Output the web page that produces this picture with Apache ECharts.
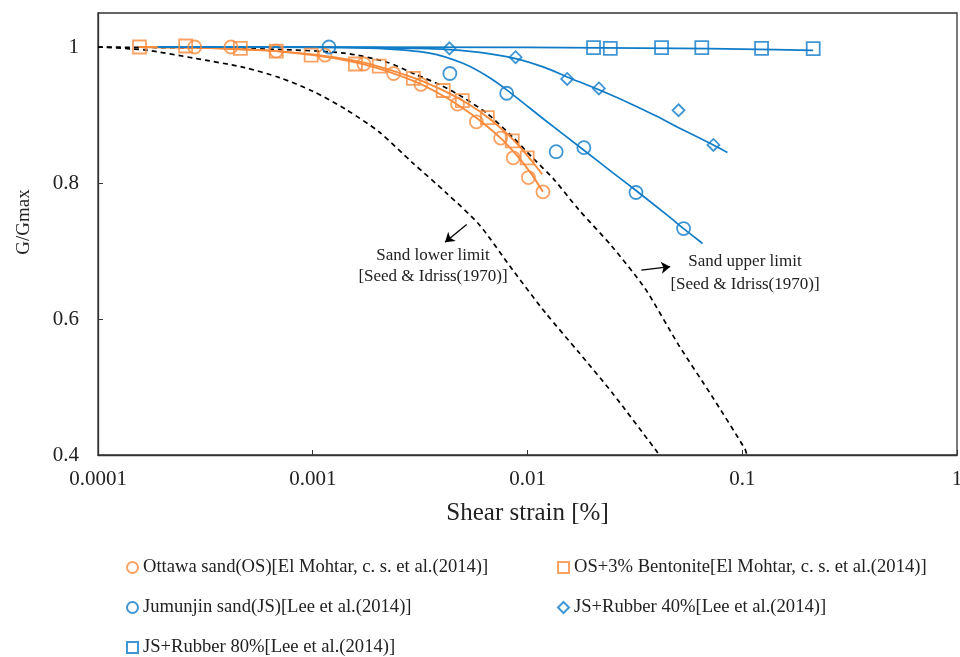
<!DOCTYPE html>
<html>
<head>
<meta charset="utf-8">
<style>
  html, body { margin: 0; padding: 0; background: #fff; }
  #chart { width: 960px; height: 657px; }
</style>
<script src="https://cdn.jsdelivr.net/npm/echarts@6.0.0/dist/echarts.min.js"></script>
</head>
<body>
<div id="chart"></div>
<script>
// tick labels
const xTickLabels = ["0.0001", "0.001", "0.01", "0.1", "1"];

// measured points
const osX = [0.000282, 0.000416, 0.000676, 0.00114, 0.00173, 0.00238, 0.00319, 0.00472, 0.00578, 0.0075, 0.00858, 0.0101, 0.0118];
const osY = [1.0, 1.0, 0.994, 0.988, 0.975, 0.961, 0.945, 0.916, 0.890, 0.866, 0.837, 0.808, 0.787];

const bentX = [0.000156, 0.000256, 0.00046, 0.000676, 0.000983, 0.00158, 0.00204, 0.00294, 0.00405, 0.00497, 0.0065, 0.00849, 0.00997];
const bentY = [1.0, 1.0015, 0.998, 0.994, 0.988, 0.975, 0.972, 0.954, 0.936, 0.921, 0.896, 0.862, 0.837];

const jsX = [0.00119, 0.00435, 0.0080, 0.0136, 0.0183, 0.0320, 0.0533];
const jsY = [1.0, 0.961, 0.932, 0.846, 0.852, 0.786, 0.733];

const r40X = [0.00433, 0.0088, 0.0153, 0.0215, 0.0505, 0.0734];
const r40Y = [0.998, 0.985, 0.953, 0.939, 0.907, 0.856];

const r80X = [0.0203, 0.0243, 0.0421, 0.0648, 0.123, 0.214];
const r80Y = [0.999, 0.998, 0.999, 0.999, 0.998, 0.9975];

// fitted curves
const osFitX = [0.000155, 0.0003, 0.0006, 0.001, 0.0015, 0.002, 0.003, 0.004, 0.005, 0.006, 0.0075, 0.009, 0.0105, 0.0118];
const osFitY = [1.0, 0.999, 0.995, 0.988, 0.979, 0.969, 0.949, 0.929, 0.910, 0.892, 0.866, 0.839, 0.812, 0.787];

const bentFitX = [0.000155, 0.0003, 0.0006, 0.001, 0.0015, 0.002, 0.003, 0.004, 0.005, 0.006, 0.0075, 0.009, 0.0105, 0.0117];
const bentFitY = [1.0, 0.999, 0.995, 0.989, 0.981, 0.972, 0.954, 0.937, 0.921, 0.905, 0.881, 0.857, 0.832, 0.813];

const jsFitX = [0.00019, 0.001, 0.002, 0.0035, 0.005, 0.0065, 0.008, 0.012, 0.018, 0.025, 0.032, 0.045, 0.0533, 0.0653];
const jsFitY = [1.0, 0.9995, 0.998, 0.991, 0.976, 0.957, 0.937, 0.893, 0.850, 0.815, 0.789, 0.752, 0.733, 0.711];

const r40FitX = [0.00019, 0.001, 0.002, 0.004, 0.006, 0.0088, 0.012, 0.0153, 0.0215, 0.03, 0.04, 0.05, 0.0734, 0.0853];
const r40FitY = [1.0, 1.0, 0.999, 0.997, 0.992, 0.983, 0.970, 0.956, 0.937, 0.917, 0.898, 0.882, 0.856, 0.845];

const r80FitX = [0.00019, 0.01, 0.05, 0.1, 0.214];
const r80FitY = [1.0, 0.9995, 0.998, 0.997, 0.995];

// Seed & Idriss (1970) bounds
const upX = [0.0001, 0.0006, 0.0014, 0.0022, 0.003, 0.004, 0.005, 0.0065, 0.0085, 0.0105, 0.0133, 0.0173, 0.0247, 0.0354, 0.0505, 0.0721, 0.1031, 0.105];
const upY = [1.0, 0.997, 0.991, 0.978, 0.96, 0.943, 0.926, 0.902, 0.868, 0.838, 0.805, 0.761, 0.707, 0.644, 0.562, 0.487, 0.4085, 0.4];

const loX = [0.0001, 0.000165, 0.000282, 0.000482, 0.0007, 0.001, 0.00143, 0.00204, 0.00291, 0.00417, 0.00595, 0.00849, 0.01213, 0.01733, 0.02473, 0.0394, 0.041];
const loY = [1.0, 0.9956, 0.9834, 0.9697, 0.955, 0.935, 0.908, 0.875, 0.830, 0.786, 0.739, 0.673, 0.609, 0.551, 0.492, 0.408, 0.4];

// arrows [from, to]
const lowerArrow = [[0.00521, 0.739], [0.00413, 0.713]];
const upperArrow = [[0.0339, 0.672], [0.0462, 0.677]];

const legendNames = [
  "Ottawa sand(OS)[El Mohtar, c. s. et al.(2014)]",
  "OS+3% Bentonite[El Mohtar, c. s. et al.(2014)]",
  "Jumunjin sand(JS)[Lee et al.(2014)]",
  "JS+Rubber 40%[Lee et al.(2014)]",
  "JS+Rubber 80%[Lee et al.(2014)]"
];

const ORANGE = "#F98B3C";
const BLUE = "#107CC8";
const FONT = "Liberation Serif";
const TXT = "#222";

function pairs(xs, ys) {
  return xs.map((x, i) => [x, ys[i]]);
}

function fitLine(xs, ys, color, width) {
  return {
    type: "line",
    data: pairs(xs, ys),
    showSymbol: false,
    smooth: 0.25,
    silent: true,
    lineStyle: { color: color, width: width },
    z: 3
  };
}

function dashLine(xs, ys) {
  return {
    type: "line",
    data: pairs(xs, ys),
    showSymbol: false,
    smooth: 0.25,
    silent: true,
    lineStyle: { color: "#000", width: 1.7, type: [5, 4] },
    z: 2
  };
}

function points(name, xs, ys, symbol, size, color) {
  return {
    name: name,
    type: "scatter",
    data: pairs(xs, ys),
    symbol: symbol,
    symbolSize: size,
    itemStyle: { color: "rgba(255,255,255,0)", borderColor: color, borderWidth: 1.8 },
    z: 5
  };
}

function arrow(seg) {
  return {
    type: "line",
    data: [],
    silent: true,
    markLine: {
      silent: true,
      symbol: ["none", "arrow"],
      symbolSize: 9,
      label: { show: false },
      lineStyle: { color: "#000", width: 1.3, type: "solid" },
      data: [[{ coord: seg[0] }, { coord: seg[1] }]]
    }
  };
}

const legendPos = [
  { left: 126, top: 558 },
  { left: 557, top: 558 },
  { left: 126, top: 598 },
  { left: 557, top: 598 },
  { left: 126, top: 638 }
];

const myChart = echarts.init(document.getElementById("chart"));
const option = {
  backgroundColor: "#fff",
  animation: false,
  grid: {
    left: 98,
    right: 3,
    top: 13,
    bottom: 202,
    show: true,
    borderColor: "#333",
    borderWidth: 1.3,
    outerBoundsMode: "none"
  },
  legend: legendNames.map((n, i) => ({
    data: [n],
    left: legendPos[i].left,
    top: legendPos[i].top,
    padding: 0,
    itemWidth: 11,
    itemHeight: 11,
    selectedMode: false,
    textStyle: { fontFamily: FONT, fontSize: 18.6, color: TXT }
  })),
  xAxis: {
    type: "log",
    logBase: 10,
    min: 0.0001,
    max: 1,
    name: "Shear strain [%]",
    nameLocation: "middle",
    nameGap: 46,
    nameTextStyle: { fontFamily: FONT, fontSize: 25, color: TXT },
    axisLine: { lineStyle: { color: "#333", width: 1.3 } },
    axisTick: { inside: true, length: 5, lineStyle: { color: "#333" } },
    minorTick: { show: false },
    splitLine: { show: false },
    axisLabel: {
      margin: 14,
      fontFamily: FONT,
      fontSize: 21,
      color: TXT,
      formatter: function (v) {
        return xTickLabels[Math.round(Math.log10(v)) + 4] || "";
      }
    }
  },
  yAxis: {
    type: "value",
    min: 0.4,
    max: 1.05,
    interval: 0.2,
    name: "G/Gmax",
    nameLocation: "middle",
    nameGap: 64,
    nameTextStyle: { fontFamily: FONT, fontSize: 19, color: TXT, padding: [0, 0, 0, 24] },
    axisLine: { show: true, lineStyle: { color: "#333", width: 1.3 } },
    axisTick: { show: true, inside: true, length: 5, lineStyle: { color: "#333" } },
    splitLine: { show: false },
    axisLabel: {
      margin: 19,
      fontFamily: FONT,
      fontSize: 21,
      color: TXT,
      showMaxLabel: false,
      formatter: function (v) {
        return String(+v.toFixed(1));
      }
    }
  },
  graphic: [
    { type: "text", x: 433, y: 256, style: { text: "Sand lower limit", font: '17px "Liberation Serif"', fill: TXT, align: "center", verticalAlign: "middle" } },
    { type: "text", x: 433, y: 277, style: { text: "[Seed & Idriss(1970)]", font: '17px "Liberation Serif"', fill: TXT, align: "center", verticalAlign: "middle" } },
    { type: "text", x: 745, y: 262, style: { text: "Sand upper limit", font: '17px "Liberation Serif"', fill: TXT, align: "center", verticalAlign: "middle" } },
    { type: "text", x: 745, y: 285, style: { text: "[Seed & Idriss(1970)]", font: '17px "Liberation Serif"', fill: TXT, align: "center", verticalAlign: "middle" } }
  ],
  series: [
    dashLine(upX, upY),
    dashLine(loX, loY),
    fitLine(osFitX, osFitY, ORANGE, 1.9),
    fitLine(bentFitX, bentFitY, ORANGE, 1.9),
    fitLine(jsFitX, jsFitY, BLUE, 1.7),
    fitLine(r40FitX, r40FitY, BLUE, 1.7),
    fitLine(r80FitX, r80FitY, BLUE, 1.7),
    points(legendNames[0], osX, osY, "circle", 13, ORANGE),
    points(legendNames[1], bentX, bentY, "rect", 13, ORANGE),
    points(legendNames[2], jsX, jsY, "circle", 13, BLUE),
    points(legendNames[3], r40X, r40Y, "diamond", 12, BLUE),
    points(legendNames[4], r80X, r80Y, "rect", 13, BLUE),
    arrow(lowerArrow),
    arrow(upperArrow)
  ]
};
myChart.setOption(option);
</script>
</body>
</html>
